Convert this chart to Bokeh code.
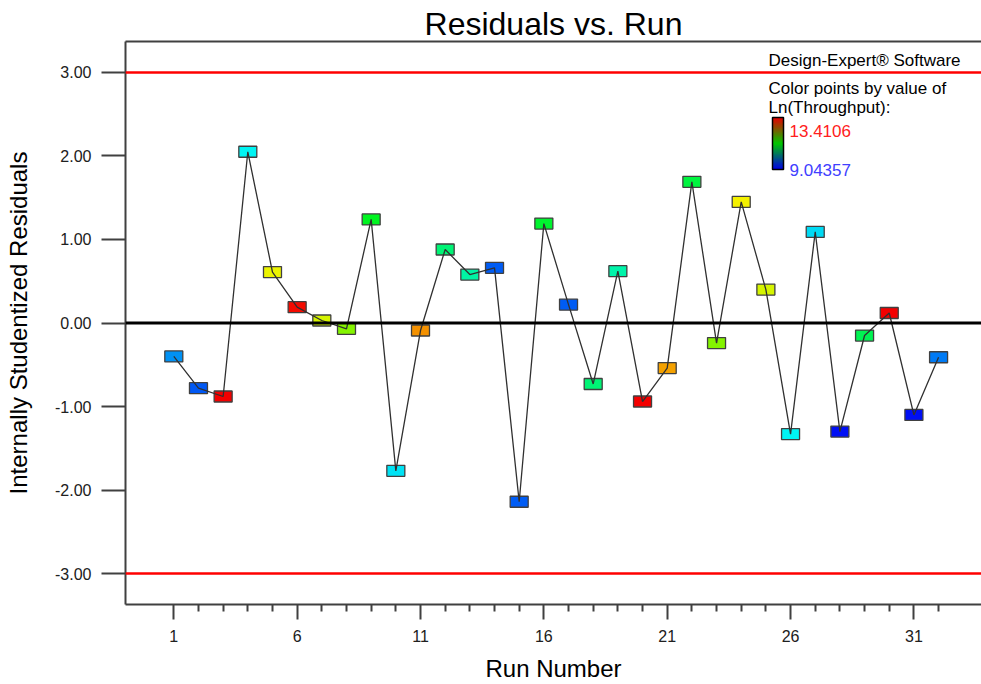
import colorsys
import numpy as np
from bokeh.plotting import figure
from bokeh.models import (Range1d, FixedTicker, NumeralTickFormatter, Span, Label,
                          LinearAxis, ColumnDataSource)
from bokeh.transform import linear_cmap
from bokeh.embed import file_html
from bokeh.resources import INLINE

# ---------------- data ----------------
runs = list(range(1, 33))
residuals = [-0.40, -0.78, -0.88, 2.05, 0.61, 0.19, 0.03, -0.07, 1.24, -1.77,
             -0.09, 0.88, 0.58, 0.66, -2.14, 1.19, 0.22, -0.73, 0.62, -0.94,
             -0.54, 1.69, -0.24, 1.45, 0.40, -1.33, 1.09, -1.30, -0.15, 0.12,
             -1.10, -0.41]
ln_throughput = [9.70, 9.44, 13.41, 10.14, 12.28, 13.35, 12.17, 11.81, 11.08, 10.06,
                 12.76, 10.70, 10.50, 9.46, 9.46, 11.01, 9.46, 10.70, 10.46, 13.41,
                 12.68, 10.94, 11.81, 12.32, 12.17, 10.14, 10.03, 9.12, 10.86, 13.41,
                 9.12, 9.59]
ln_min, ln_max = 9.04357, 13.4106
control_limits = [-3.0, 3.0]
y_ticks = [-3, -2, -1, 0, 1, 2, 3]
x_major_ticks = [1, 6, 11, 16, 21, 26, 31]
x_minor_ticks = [t for t in range(2, 33) if t not in x_major_ticks]

# ---------------- geometry ----------------
W, H = 981, 684
BL, BR, BT, BB = 125, 0, 41, 80
FW, FH = W - BL - BR, H - BT - BB
x0, x1 = -0.958, -0.958 + FW / 24.67
y0, y1 = -3.37, 3.37


def dx(px):  # canvas px -> data x
    return x0 + (px - BL) * (x1 - x0) / FW


def dy(py):  # canvas px -> data y
    return y0 + (BT + FH - py) * (y1 - y0) / FH


FONT = "Liberation Sans"

p = figure(width=W, height=H, output_backend="svg", toolbar_location=None,
           x_range=Range1d(x0, x1), y_range=Range1d(y0, y1),
           min_border_left=BL, min_border_right=BR, min_border_top=BT,
           min_border_bottom=BB, title="Residuals vs. Run")
p.title.align = "center"
p.title.text_font = FONT
p.title.text_font_size = "32px"
p.title.text_font_style = "normal"
p.title.text_color = "black"
p.title.standoff = 0
p.title.offset = 0
p.outline_line_color = None
p.xgrid.visible = False
p.ygrid.visible = False
p.background_fill_color = "white"

# axes
AX = "#404040"
xa = p.xaxis[0]
xa.ticker = FixedTicker(ticks=x_major_ticks, minor_ticks=x_minor_ticks)
xa.major_tick_out = 15
xa.major_tick_in = 0
xa.minor_tick_out = 7
xa.minor_tick_in = 0
xa.major_label_standoff = 10
xa.axis_line_width = 2
xa.axis_line_color = AX
xa.major_tick_line_color = AX
xa.major_tick_line_width = 2
xa.minor_tick_line_color = AX
xa.minor_tick_line_width = 2
xa.major_label_text_font = FONT
xa.major_label_text_font_size = "16px"
xa.major_label_text_color = "#202020"
xa.axis_label = "Run Number"
xa.axis_label_text_font = FONT
xa.axis_label_text_font_size = "24px"
xa.axis_label_text_font_style = "normal"
xa.axis_label_text_color = "black"
xa.axis_label_standoff = 10

ya = p.yaxis[0]
ya.ticker = FixedTicker(ticks=y_ticks, minor_ticks=[])
ya.formatter = NumeralTickFormatter(format="0.00")
ya.major_tick_out = 24
ya.major_tick_in = 0
ya.minor_tick_out = 0
ya.major_label_standoff = 10
ya.axis_line_width = 2
ya.axis_line_color = AX
ya.major_tick_line_color = AX
ya.major_tick_line_width = 2
ya.major_label_text_font = FONT
ya.major_label_text_font_size = "16px"
ya.major_label_text_color = "#202020"
ya.axis_label = "Internally Studentized Residuals"
ya.axis_label_text_font = FONT
ya.axis_label_text_font_size = "24px"
ya.axis_label_text_font_style = "normal"
ya.axis_label_text_color = "black"
ya.axis_label_standoff = 20

top = LinearAxis(ticker=FixedTicker(ticks=[], minor_ticks=[]),
                 major_label_text_font_size="0px", axis_line_width=2,
                 axis_line_color=AX, major_tick_out=0, minor_tick_out=0,
                 major_label_standoff=0)
p.add_layout(top, "above")

# reference lines
for lim in control_limits:
    p.add_layout(Span(location=lim, dimension="width", line_color="#ff0000",
                      line_width=2.5))
p.add_layout(Span(location=0, dimension="width", line_color="black", line_width=3))

# colour palette (blue -> cyan -> green -> yellow -> red)
palette = []
for i in range(256):
    h = (240 - 240 * i / 255) / 360.0
    r, g, b = colorsys.hsv_to_rgb(h, 1.0, 0.96)
    palette.append("#%02x%02x%02x" % (int(r * 255), int(g * 255), int(b * 255)))

src = ColumnDataSource(dict(run=runs, res=residuals, ln=ln_throughput))
p.rect("run", "res", width=18, height=11, width_units="screen", height_units="screen",
       source=src, fill_color=linear_cmap("ln", palette, ln_min, ln_max),
       line_color="#404040", line_width=1.3)
p.line("run", "res", source=src, line_color="#303030", line_width=1.3)

# legend colour bar (red -> green -> blue gradient)
n = 64
img = np.zeros((n, 1), dtype=np.uint32)
view = img.view(dtype=np.uint8).reshape((n, 1, 4))
for i in range(n):
    t = i / (n - 1)  # 0 bottom (blue) -> 1 top (red)
    if t < 0.5:
        u = t / 0.5
        r, g, b = 0, int(200 * u), int(230 * (1 - u))
    else:
        u = (t - 0.5) / 0.5
        r, g, b = int(230 * u), int(200 * (1 - u)), 0
    view[i, 0] = [r, g, b, 255]
bx_l, bx_r, by_t, by_b = 772, 783, 117, 169
p.image_rgba(image=[img], x=dx(bx_l), y=dy(by_b), dw=dx(bx_r) - dx(bx_l),
             dh=dy(by_t) - dy(by_b))
p.quad(left=[dx(bx_l)], right=[dx(bx_r)], bottom=[dy(by_b)], top=[dy(by_t)],
       fill_color=None, line_color="black", line_width=1.5)


def lab(text, px, py, size, color="black", align="left", baseline="alphabetic"):
    p.add_layout(Label(x=dx(px), y=dy(py), text=text, text_font=FONT,
                       text_font_size=size, text_color=color, text_align=align,
                       text_baseline=baseline))


lab("Design-Expert\u00ae Software", 768, 60, "17px")
lab("Color points by value of", 768, 88, "17px")
lab("Ln(Throughput):", 768, 107, "17px")
lab("%g" % ln_max, 789, 130, "17px", color="#ff2020")
lab("%g" % ln_min, 789, 169, "17px", color="#4040ff")

open("out.html", "w").write(file_html(p, INLINE))
